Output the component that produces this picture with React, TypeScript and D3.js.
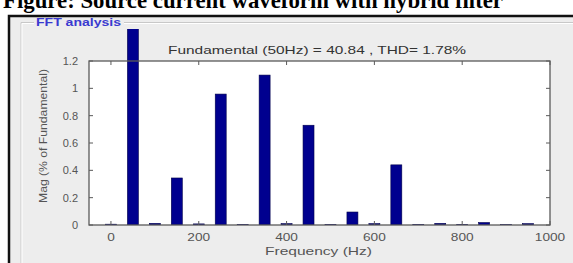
import React from "react";
import * as d3 from "d3";

// harmonic frequencies (Hz) and magnitudes (% of fundamental)
const freqs = [0, 50, 100, 150, 200, 250, 300, 350, 400, 450, 500, 550, 600, 650, 700, 750, 800, 850, 900, 950];
const mags = [0.006, 100, 0.012, 0.344, 0.008, 0.958, 0.005, 1.097, 0.01, 0.73, 0.005, 0.095, 0.01, 0.44, 0.005, 0.012, 0.005, 0.018, 0.004, 0.01];
const xTicks = [0, 200, 400, 600, 800, 1000];
const yTicks = [0, 0.2, 0.4, 0.6, 0.8, 1, 1.2];

const caption = "Figure: Source current waveform with hybrid filter";
const panelTitle = "FFT analysis";
const chartTitle = "Fundamental (50Hz) = 40.84 , THD= 1.78%";
const xLabel = "Frequency (Hz)";
const yLabel = "Mag (% of Fundamental)";

export default function App() {
  const W = 573;
  const H = 263;
  const plot = { left: 89, right: 550, top: 61, bottom: 225 };

  const x = d3.scaleLinear().domain([-50, 1000]).range([plot.left, plot.right]);
  const y = d3.scaleLinear().domain([0, 1.2]).range([plot.bottom, plot.top]);
  const barW = x(25) - x(0);
  // the fundamental bar runs off the axes and is cut near the panel edge
  const clipTop = y(1.435);

  const axisCol = "#5a5a5a";
  const font = "Liberation Sans, Arial, sans-serif";
  // the GUI font in the screenshot is wide, so widths are stretched to match
  const wide = (s: string, k: number) => s.length * k;

  return (
    <svg width={W} height={H} style={{ position: "absolute", left: 0, top: 0, background: "#fff" }}>
      <defs>
        <clipPath id="barclip">
          <rect x={plot.left} y={clipTop} width={plot.right - plot.left} height={plot.bottom - clipTop} />
        </clipPath>
      </defs>
      <text
        x={3}
        y={8}
        fontFamily="Liberation Serif, Times New Roman, serif"
        fontWeight="bold"
        fontSize={23}
        fill="#000"
        textLength={500}
        lengthAdjust="spacingAndGlyphs"
      >
        {caption}
      </text>

      {/* window frame and grey panel */}
      <rect x={9} y={16} width={W} height={H} fill="#ededed" stroke="#111" strokeWidth={2.5} />
      <path d={`M21,${H} V22.5 H34 M124,22.5 H${W}`} fill="none" stroke="#c8c8c8" strokeWidth={1} />
      <path d={`M22,${H} V23.5 H34 M124,23.5 H${W}`} fill="none" stroke="#fff" strokeWidth={1} />
      <text x={36} y={26} fontFamily={font} fontSize={10} fontWeight="bold" fill="#3a3ad0" textLength={85} lengthAdjust="spacingAndGlyphs">
        {panelTitle}
      </text>

      {/* axes */}
      <rect x={plot.left} y={plot.top} width={plot.right - plot.left} height={plot.bottom - plot.top} fill="#fff" />

      <g clipPath="url(#barclip)">
        {freqs.map((f, i) => {
          const top = y(mags[i]);
          return (
            <rect
              key={f}
              x={x(f) - barW / 2}
              y={top}
              width={barW}
              height={Math.max(1.2, plot.bottom - top)}
              fill="#00008f"
              stroke="#00004a"
              strokeWidth={0.6}
            />
          );
        })}
      </g>

      <rect x={plot.left} y={plot.top} width={plot.right - plot.left} height={plot.bottom - plot.top} fill="none" stroke={axisCol} strokeWidth={1.3} />

      {xTicks.map((t) => (
        <g key={t}>
          <line x1={x(t)} x2={x(t)} y1={plot.bottom} y2={plot.bottom - 4} stroke={axisCol} />
          <line x1={x(t)} x2={x(t)} y1={plot.top} y2={plot.top + 4} stroke={axisCol} />
          <text
            x={x(t) - wide(String(t), 7.6) / 2}
            y={241}
            fontFamily={font}
            fontSize={11}
            fill="#555"
            textLength={wide(String(t), 7.6)}
            lengthAdjust="spacingAndGlyphs"
          >
            {t}
          </text>
        </g>
      ))}
      {yTicks.map((t) => (
        <g key={t}>
          <line x1={plot.left} x2={plot.left + 4} y1={y(t)} y2={y(t)} stroke={axisCol} />
          <line x1={plot.right} x2={plot.right - 4} y1={y(t)} y2={y(t)} stroke={axisCol} />
          <text x={plot.left - 11} y={y(t) + 4} textAnchor="end" fontFamily={font} fontSize={11} fill="#555">
            {t}
          </text>
        </g>
      ))}

      <text
        x={168}
        y={54}
        fontFamily={font}
        fontSize={11}
        fill="#333"
        textLength={298}
        lengthAdjust="spacingAndGlyphs"
      >
        {chartTitle}
      </text>
      <text x={265} y={255} fontFamily={font} fontSize={11} fill="#555" textLength={107} lengthAdjust="spacingAndGlyphs">
        {xLabel}
      </text>
      <text
        transform={`translate(47,${(plot.top + plot.bottom) / 2 - 7}) rotate(-90)`}
        x={-67}
        fontFamily={font}
        fontSize={10}
        fill="#555"
        textLength={134}
        lengthAdjust="spacingAndGlyphs"
      >
        {yLabel}
      </text>
    </svg>
  );
}
